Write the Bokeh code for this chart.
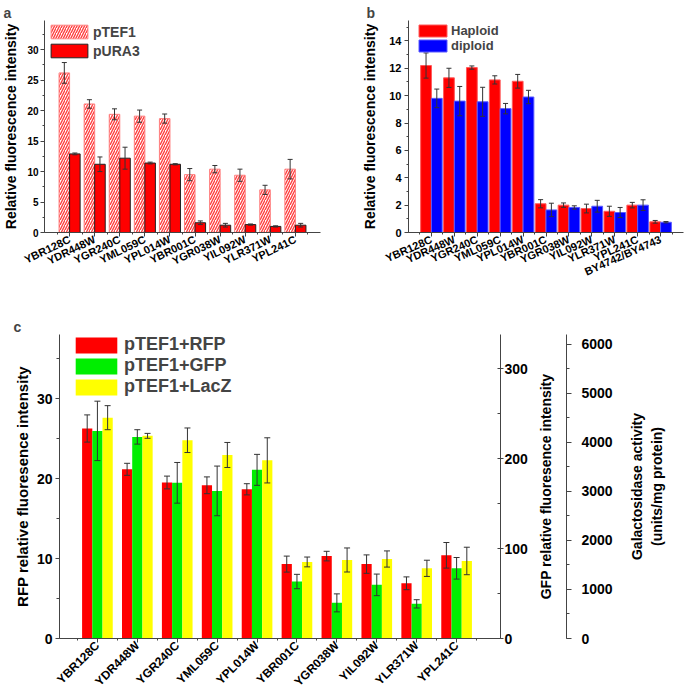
from bokeh.plotting import figure
from bokeh.models import (ColumnDataSource, Whisker, TeeHead, Legend, LegendItem,
                          FixedTicker, SingleIntervalTicker, LinearAxis, Range1d)
from bokeh.layouts import column, row
from bokeh.embed import file_html
from bokeh.resources import INLINE

FONT = "Liberation Sans"

# ---------------- data ----------------
genes10 = ["YBR128C", "YDR448W", "YGR240C", "YML059C", "YPL014W",
           "YBR001C", "YGR038W", "YIL092W", "YLR371W", "YPL241C"]
genes11 = genes10 + ["BY4742/BY4743"]

# panel a
ptef1 = [26.2, 21.1, 19.4, 19.1, 18.7, 9.5, 10.4, 9.4, 7.0, 10.4]
ptef1_err = [1.7, 0.7, 0.9, 1.0, 0.75, 1.0, 0.6, 1.0, 0.75, 1.6]
pura3 = [12.9, 11.2, 12.2, 11.4, 11.2, 1.6, 1.2, 1.3, 1.0, 1.2]
pura3_err = [0.15, 1.2, 1.8, 0.15, 0.1, 0.3, 0.3, 0.1, 0.1, 0.3]

# panel b
haploid = [12.2, 11.3, 12.05, 11.15, 11.05, 2.1, 2.0, 1.75, 1.55, 2.0, 0.78]
haploid_err = [0.92, 0.7, 0.12, 0.3, 0.5, 0.3, 0.16, 0.32, 0.37, 0.2, 0.1]
diploid = [9.8, 9.6, 9.55, 9.05, 9.9, 1.65, 1.83, 1.92, 1.46, 2.0, 0.75]
diploid_err = [0.68, 1.07, 1.06, 0.38, 0.49, 0.49, 0.12, 0.43, 0.37, 0.39, 0.05]

# panel c
rfp = [26.25, 21.15, 19.5, 19.15, 18.65, 9.3, 10.3, 9.3, 6.9, 10.4]
rfp_err = [1.7, 0.75, 0.8, 1.05, 0.7, 1.0, 0.6, 1.15, 0.8, 1.6]
gfp = [230.7, 224.0, 173.0, 164.0, 187.4, 63.3, 39.6, 59.6, 38.5, 78.0]
gfp_err = [33.0, 8.0, 22.6, 27.6, 17.2, 8.0, 10.0, 12.0, 4.6, 12.0]
lacz = [4500, 4130, 4040, 3740, 3630, 1560, 1600, 1620, 1430, 1580]
lacz_err = [245, 50, 250, 255, 460, 100, 245, 165, 165, 280]

# axis extents for panel c (frame is 304 px tall)
RFP_MAX, GFP_MAX, GAL_MAX = 38.0, 337.8, 6195

AXC = "#444444"
ERRC = "#333333"


def style_axis(ax, tick_size, tick_out=4, minor_out=2, standoff=2):
    ax.axis_line_color = AXC
    ax.major_tick_line_color = AXC
    ax.minor_tick_line_color = AXC
    ax.major_tick_in = 0
    ax.major_tick_out = tick_out
    ax.minor_tick_in = 0
    ax.minor_tick_out = minor_out
    ax.major_label_text_font = FONT
    ax.major_label_text_font_style = "bold"
    ax.major_label_text_font_size = tick_size
    ax.major_label_text_color = "black"
    ax.major_label_standoff = standoff
    ax.axis_label_text_font = FONT
    ax.axis_label_text_font_style = "bold"
    ax.axis_label_text_color = "black"


def base_fig(w, h, xr, yr, bl, br, bt, bb, letter=None, offset=0):
    p = figure(width=w, height=h, x_range=xr, y_range=yr, output_backend="svg",
               toolbar_location=None, min_border_left=bl, min_border_right=br,
               min_border_top=bt, min_border_bottom=bb)
    p.outline_line_color = None
    p.xgrid.visible = False
    p.ygrid.visible = False
    if letter:
        p.title.text = letter
        p.title.align = "left"
        p.title.offset = offset
        p.title.standoff = 0
        p.title.text_font = FONT
        p.title.text_font_style = "bold"
        p.title.text_font_size = "14px"
    return p


def label_only_axis(ax, text, standoff, size="14px"):
    ax.ticker = FixedTicker(ticks=[])
    ax.axis_line_color = None
    ax.major_tick_in = 0
    ax.major_tick_out = 0
    ax.minor_tick_in = 0
    ax.minor_tick_out = 0
    ax.major_label_standoff = 0
    ax.axis_label = text
    ax.axis_label_standoff = standoff
    ax.axis_label_text_font = FONT
    ax.axis_label_text_font_style = "bold"
    ax.axis_label_text_font_size = size
    ax.axis_label_text_color = "black"


def cat_axis(p, names, angle, size, standoff=2, tick_out=4):
    n = len(names)
    ax = p.xaxis[0]
    ax.ticker = FixedTicker(ticks=list(range(n)),
                            minor_ticks=[i + 0.5 for i in range(-1, n)])
    ax.major_label_overrides = {i: s for i, s in enumerate(names)}
    ax.major_label_orientation = angle
    style_axis(ax, size, tick_out=tick_out, minor_out=2, standoff=standoff)


def whisk(p, xs, vals, errs, range_name="default", size=6):
    src = ColumnDataSource(dict(x=xs, upper=[v + e for v, e in zip(vals, errs)],
                                lower=[v - e for v, e in zip(vals, errs)]))
    w = Whisker(source=src, base="x", upper="upper", lower="lower",
                line_color=ERRC, line_width=1, level="overlay",
                upper_head=TeeHead(size=size, line_color=ERRC, line_width=1),
                lower_head=TeeHead(size=size, line_color=ERRC, line_width=1))
    if range_name != "default":
        w.y_range_name = range_name
    p.add_layout(w)


# ---------------- panel a ----------------
pa = base_fig(340, 300, Range1d(-1, 10), Range1d(0, 34.8), 43, 20, 20, 68, "a", -41)
xa = list(range(len(genes10)))
ra1 = pa.vbar(x=[i - 0.21 for i in xa], top=ptef1, width=0.42, fill_color="#ffffff",
              hatch_pattern="/", hatch_color="#ff4040", hatch_scale=5, hatch_weight=1.4,
              line_color="#ff8080", line_width=1)
ra2 = pa.vbar(x=[i + 0.21 for i in xa], top=pura3, width=0.42, fill_color="#ff0000",
              line_color="#222222", line_width=1)
whisk(pa, [i - 0.21 for i in xa], ptef1, ptef1_err, size=5)
whisk(pa, [i + 0.21 for i in xa], pura3, pura3_err, size=5)
cat_axis(pa, genes10, 0.45, "11px")
pa.yaxis.ticker = SingleIntervalTicker(interval=5, num_minor_ticks=2)
style_axis(pa.yaxis[0], "10px", tick_out=4, minor_out=2, standoff=2)
pa.yaxis.axis_label = "Relative fluorescence intensity"
pa.yaxis.axis_label_text_font_size = "14px"
pa.yaxis.axis_label_standoff = 5
leg_a = Legend(items=[LegendItem(label="pTEF1", renderers=[ra1]),
                      LegendItem(label="pURA3", renderers=[ra2])],
               location=(2, 173), glyph_width=46, glyph_height=17, spacing=2,
               label_standoff=1, padding=0, margin=0, border_line_color=None,
               background_fill_alpha=0, label_text_font=FONT,
               label_text_font_style="bold", label_text_font_size="14px", label_height=17)
pa.add_layout(leg_a)

# ---------------- panel b ----------------
pb = base_fig(345, 300, Range1d(-1, 11), Range1d(0, 15.49), 68, 2, 20, 68, "b", -42)
xb = list(range(len(genes11)))
rb1 = pb.vbar(x=[i - 0.235 for i in xb], top=haploid, width=0.47, fill_color="#ff0000",
              line_color="#ff5a5a", line_width=1)
rb2 = pb.vbar(x=[i + 0.235 for i in xb], top=diploid, width=0.47, fill_color="#0000ff",
              line_color="#5a5aff", line_width=1)
whisk(pb, [i - 0.235 for i in xb], haploid, haploid_err, size=5)
whisk(pb, [i + 0.235 for i in xb], diploid, diploid_err, size=5)
cat_axis(pb, genes11, 0.42, "11px")
pb.yaxis.ticker = SingleIntervalTicker(interval=2, num_minor_ticks=2)
style_axis(pb.yaxis[0], "11px", tick_out=4, minor_out=2, standoff=3)
pb.yaxis.axis_label = "Relative fluorescence intensity"
pb.yaxis.axis_label_text_font_size = "14px"
pb.yaxis.axis_label_standoff = 8
leg_b = Legend(items=[LegendItem(label="Haploid", renderers=[rb1]),
                      LegendItem(label="diploid", renderers=[rb2])],
               location=(7, 179), glyph_width=35, glyph_height=15, spacing=0,
               label_standoff=1, padding=0, margin=0, border_line_color=None,
               background_fill_alpha=0, label_text_font=FONT,
               label_text_font_style="bold", label_text_font_size="13px", label_height=14)
pb.add_layout(leg_b)

# ---------------- panel c (main plot) ----------------
CH, CT, CB = 399, 34, 61
pc = base_fig(530, CH, Range1d(-0.95, 10.1), Range1d(0, RFP_MAX), 59, 28, CT, CB, "c", -46)
pc.extra_y_ranges = {"gfp": Range1d(0, GFP_MAX), "gal": Range1d(0, GAL_MAX)}
xc = list(range(len(genes10)))
bw = 0.256
rc1 = pc.vbar(x=[i - bw for i in xc], top=rfp, width=bw, fill_color="#ff0000", line_color=None)
rc2 = pc.vbar(x=xc, top=gfp, width=bw, fill_color="#00ee00", line_color=None, y_range_name="gfp")
rc3 = pc.vbar(x=[i + bw for i in xc], top=lacz, width=bw, fill_color="#ffff00", line_color=None,
              y_range_name="gal")
whisk(pc, [i - bw for i in xc], rfp, rfp_err, size=6)
whisk(pc, xc, gfp, gfp_err, range_name="gfp", size=6)
whisk(pc, [i + bw for i in xc], lacz, lacz_err, range_name="gal", size=6)
cat_axis(pc, genes10, 0.785, "12px", standoff=1, tick_out=4)
pc.yaxis.ticker = SingleIntervalTicker(interval=10, num_minor_ticks=2)
style_axis(pc.yaxis[0], "14px", tick_out=4, minor_out=3, standoff=3)
pc.yaxis.axis_label = "RFP relative fluoresence intensity"
pc.yaxis.axis_label_text_font_size = "15px"
pc.yaxis.axis_label_standoff = 3

ax_gfp = LinearAxis(y_range_name="gfp", ticker=SingleIntervalTicker(interval=100, num_minor_ticks=2))
style_axis(ax_gfp, "14px", tick_out=3, minor_out=0, standoff=1)
ax_gfp.minor_tick_in = 3
pc.add_layout(ax_gfp, "right")

leg_c = Legend(items=[LegendItem(label="pTEF1+RFP", renderers=[rc1]),
                      LegendItem(label="pTEF1+GFP", renderers=[rc2]),
                      LegendItem(label="pTEF1+LacZ", renderers=[rc3])],
               location=(11, 241), glyph_width=52, glyph_height=20, spacing=0,
               label_standoff=2, padding=0, margin=0, border_line_color=None,
               background_fill_alpha=0, label_text_font=FONT,
               label_text_font_style="bold", label_text_font_size="18px", label_height=19)
pc.add_layout(leg_c)

# ---------------- panel c: GFP title + galactosidase axis ----------------
pr = base_fig(85, CH, Range1d(0, 1), Range1d(0, GAL_MAX), 36, 47, CT, CB)
pr.xaxis.visible = False
label_only_axis(pr.yaxis[0], "GFP relative fluoresence intensity", 13)
ax_gal = LinearAxis(ticker=SingleIntervalTicker(interval=1000, num_minor_ticks=2))
style_axis(ax_gal, "14px", tick_out=5, minor_out=3, standoff=10)
pr.add_layout(ax_gal, "right")

# ---------------- panel c: galactosidase title ----------------
pg = base_fig(70, CH, Range1d(0, 1), Range1d(0, GAL_MAX), 55, 0, CT, CB)
pg.xaxis.visible = False
label_only_axis(pg.yaxis[0], "Galactosidase activity\n(units/mg protein)", 6)

layout = column(row(pa, pb), row(pc, pr, pg))
open("out.html", "w").write(file_html(layout, INLINE))
